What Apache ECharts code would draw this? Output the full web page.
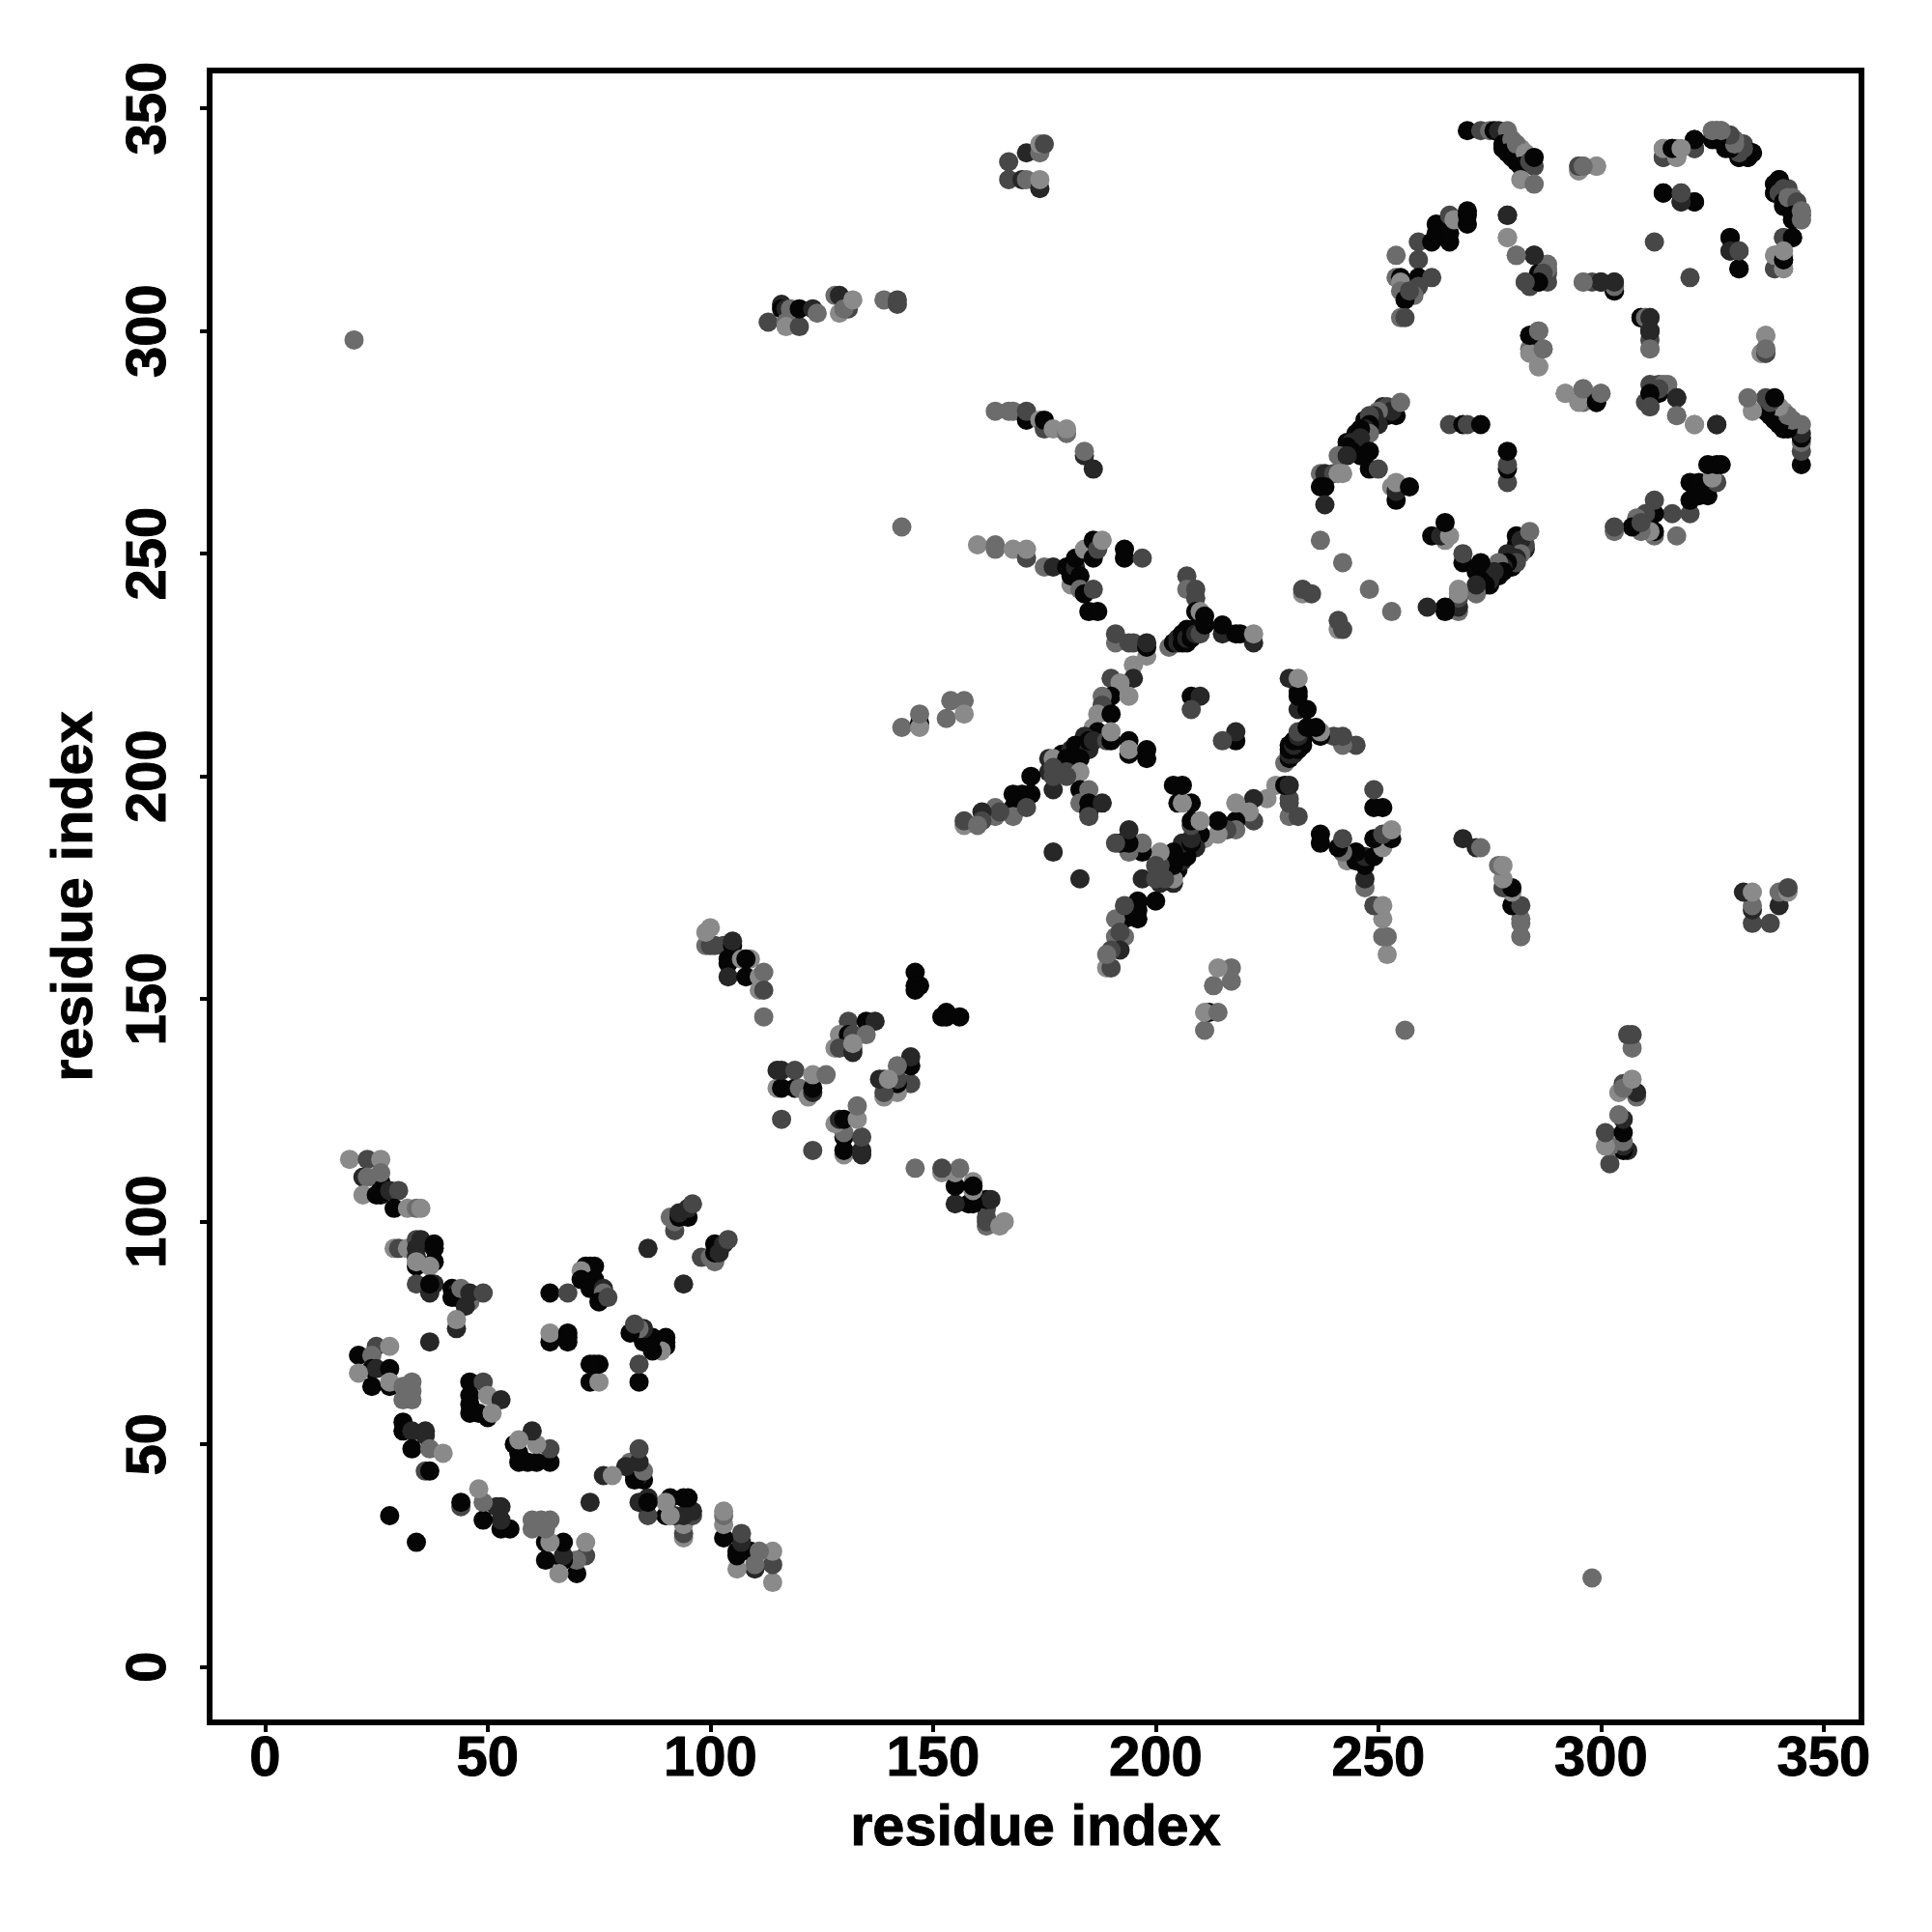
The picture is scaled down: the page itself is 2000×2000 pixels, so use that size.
<!DOCTYPE html>
<html><head><meta charset="utf-8"><style>html,body{margin:0;padding:0;background:#fff}#c{width:2000px;height:2000px}</style>
<script src="https://cdn.jsdelivr.net/npm/echarts@6/dist/echarts.min.js"></script></head>
<body><div id="c"></div>
<script>
// Each contact is [residue i, residue j, shade index]; a contact map shows every pair (i,j) and (j,i).
var tickLabels = [0, 50, 100, 150, 200, 250, 300, 350];
var axisTitle = 'residue index';
var shadePalette = ['#050505', '#272727', '#474747', '#6c6c6c', '#8a8a8a'];

var contactsA = [[19,114,4],[23,114,2],[26,114,4],[26,109,0],[22,110,1],[23,110,3],[26,111,3],[22,106,4],[25,106,0],[26,106,0],[28,107,1],[30,107,2],[29,103,0],[32,103,4],[34,103,3],[35,103,4]];
var contactsB = [[29,94,4],[30,94,2],[32,94,4],[34,96,2],[35,96,1],[34,94,1],[34,92,1],[38,95,0],[38,94,0],[34,90,0],[34,91,4],[38,91,0],[37,90,4],[34,86,2],[37,84,1],[38,86,1],[37,86,0]];
var contactsC = [[42,85,0],[43,84,1],[42,83,0],[43,83,0],[44,85,3],[46,82,3],[46,83,3],[45,81,1],[46,84,1],[49,84,2],[43,76,1],[43,78,4],[37,73,1]];
var contactsD = [[25,72,2],[28,72,4],[21,70,0],[24,70,3],[24,67,0],[25,67,1],[28,67,0],[21,66,4],[24,63,0],[28,63,0],[28,64,4],[31,63,3],[33,64,3],[33,62,3],[31,60,3],[33,60,3]];
var contactsE = [[31,55,0],[31,53,0],[33,53,1],[36,53,1],[36,52,1],[33,49,0],[37,49,3],[40,48,4],[36,44,2],[37,44,0],[28,34,0]];
var contactsF = [[46,64,0],[49,64,2],[46,61,0],[50,61,4],[53,60,1],[46,59,0],[46,57,0],[48,57,0],[50,56,0],[51,57,4]];
var contactsG = [[64,84,0],[68,84,2],[72,90,0],[73,90,0],[74,90,0],[71,89,4],[71,87,0],[74,87,0],[73,85,0],[76,85,1],[76,84,3],[75,82,0],[77,83,2],[64,73,0],[64,75,4],[68,75,0],[68,74,0],[68,73,0]];
var contactsH = [[86,94,1],[92,98,2],[92,100,3],[91,101,3],[93,101,0],[95,101,0],[93,102,1],[95,103,1],[96,104,2]];
var contactsI = [[99,162,3],[100,162,2],[101,162,2],[103,162,2],[99,165,4],[100,166,4],[105,162,0],[105,163,1],[104,158,0],[104,159,0],[107,159,4],[109,159,4],[108,159,0],[104,155,1],[108,155,0],[111,155,4],[112,156,3],[111,152,4],[112,152,2],[112,146,3],[146,156,0],[146,153,0],[147,153,0],[146,152,0]];
var contactsJ = [[115,130,4],[116,130,0],[119,130,0],[120,130,3],[122,128,4],[123,129,1],[123,130,0],[115,134,1],[116,134,1],[119,134,2],[123,133,4],[126,133,3],[116,123,2],[131,145,2],[135,145,0],[137,145,1],[129,142,4],[131,142,0],[132,142,2],[135,142,3],[128,139,4],[129,139,2],[132,139,2],[132,138,1],[132,140,4]];
var contactsL = [[160,252,4],[164,252,3],[164,251,3],[168,251,4],[171,249,2],[171,251,4],[175,247,3],[177,247,1],[180,247,0],[181,243,4],[181,245,0],[182,247,1],[182,249,0],[183,245,0],[184,251,4],[183,242,3],[184,241,0],[186,242,2],[186,249,0],[186,253,0],[187,251,2],[188,253,4],[185,237,0],[187,237,0],[193,249,0],[193,251,0],[197,249,2]];
var contactsM = [[164,282,3],[167,282,3],[168,282,3],[171,280,0],[171,282,2],[174,280,4],[175,278,2],[175,280,0],[177,278,4],[180,277,3],[180,278,4],[184,272,1],[184,273,3],[186,269,1]];
var contactsN = [[207,245,2],[207,242,3],[209,242,2],[209,240,2],[203,229,3],[204,230,0],[205,230,1],[205,231,1],[206,230,0],[206,232,0],[207,233,0],[207,230,0],[207,231,1],[208,231,0],[208,233,0],[209,232,1],[209,237,0],[210,232,2],[210,237,4],[211,234,0],[211,236,0],[215,232,1],[215,234,0],[218,232,0],[219,232,0],[222,230,1],[222,232,4]];
var contactsO = [[191,230,3],[191,232,2],[194,230,2],[195,230,2],[198,227,4],[198,229,0],[198,230,1],[195,225,4],[190,222,2],[195,222,1],[192,221,4],[190,218,0],[188,218,3],[194,218,4],[188,216,2],[187,214,4],[190,214,0],[186,211,4],[187,210,0],[184,209,1],[179,205,0],[181,206,1],[182,207,0],[182,205,0],[183,206,0],[184,207,0],[185,206,1],[185,208,0],[186,208,1],[189,208,2],[190,208,0],[190,210,4],[194,208,0],[194,205,0],[194,206,4],[198,206,0],[198,204,0]];
var contactsP = [[176,204,1],[177,204,4],[180,204,0],[183,204,0],[177,201,1],[176,201,1],[180,201,2],[183,201,4],[172,200,0],[172,196,0],[168,196,0],[170,196,0],[168,193,0],[168,192,0],[168,191,3],[171,193,2],[177,197,1],[164,193,3],[164,191,3],[165,192,2],[161,192,1],[161,190,2],[157,189,4],[157,190,2],[160,189,3]];
var contactsQ = [[183,197,0],[185,197,3],[183,194,3],[185,194,0],[185,192,0],[188,194,1],[185,191,2],[177,183,1],[180,200,2],[177,200,2],[177,202,2]];
var contactsR = [[208,218,0],[210,218,1],[208,215,2],[20,298,3],[143,256,3],[143,211,3],[147,212,0],[147,211,4],[147,214,3],[153,213,3],[154,217,3],[157,217,3],[157,214,4]];
var contactsT = [[254,281,0],[251,283,1],[252,283,2],[252,281,0],[253,282,1],[250,282,3],[255,284,3],[250,279,1],[249,280,1],[249,281,1],[247,280,0],[248,281,2],[248,279,0],[247,278,1],[248,277,3],[246,278,0],[245,277,0],[246,276,1],[243,275,0],[244,275,1],[245,275,1],[246,274,1],[243,274,0],[244,273,0],[242,272,1],[241,272,3],[246,272,0],[243,272,1],[248,273,0],[248,269,0],[250,269,2],[237,268,3],[238,268,1],[240,268,2],[241,268,4],[242,268,4],[237,265,0],[238,265,0],[238,261,1],[253,265,4],[254,262,0],[254,264,1],[254,266,4],[257,265,0],[237,253,3],[242,248,3],[233,241,4],[233,242,2],[235,241,2],[266,279,2],[269,279,0],[270,279,2],[273,279,0]];
var contactsU = [[270,345,0],[273,345,2],[275,345,3],[276,345,0],[277,345,1],[279,345,3],[278,342,0],[278,341,0],[280,343,3],[279,340,0],[280,339,0],[282,341,4],[281,338,0],[281,342,3],[283,340,4],[282,337,0],[284,338,2],[285,337,2],[285,339,0],[282,334,4],[285,333,3],[295,336,4],[295,337,3],[296,337,3],[299,337,4]];
var contactsV = [[314,339,2],[314,341,4],[316,341,0],[317,341,4],[317,339,4],[321,341,2],[321,343,0],[325,345,4],[326,345,1],[327,345,3],[325,343,0],[328,344,1],[329,343,3],[328,341,0],[332,342,2],[331,339,0],[333,339,0],[334,340,0],[314,331,0],[318,329,1],[318,331,2],[321,329,0]];
var contactsW = [[339,333,0],[339,331,0],[340,334,0],[340,331,2],[341,332,2],[341,329,0],[342,328,0],[342,330,3],[343,330,3],[344,327,1],[344,329,2],[343,326,0],[345,325,3],[345,327,3],[341,321,2],[343,321,0],[339,314,2],[339,317,4],[341,314,4],[341,316,0],[341,318,4],[329,321,0],[329,318,1],[331,314,0],[331,318,2],[312,320,2]];
var contactsX = [[259,320,2],[262,320,0],[263,322,0],[263,324,0],[266,320,0],[266,322,0],[266,326,2],[267,325,4],[270,324,0],[270,326,0],[270,327,0],[259,316,2],[254,317,3],[254,312,3],[255,312,0],[259,312,0],[262,312,2],[255,311,4],[259,310,2],[255,309,3],[258,308,3],[256,307,0],[257,309,2],[255,303,3],[256,303,2]];
var contactsY = [[279,326,1],[279,321,4],[281,317,3],[285,317,1],[283,311,2],[286,313,0],[286,311,0],[284,310,2],[288,313,2],[288,315,3],[296,311,4],[298,311,2],[300,311,0],[303,309,0],[303,310,2],[303,311,1],[309,303,0],[310,303,3],[311,303,1],[311,300,1],[311,296,3],[284,299,0],[286,300,3],[284,296,3],[285,296,0],[287,296,3],[286,292,4],[337,299,4],[336,295,4],[337,295,2],[337,296,3]];
var contactsZ = [[292,286,4],[296,285,0],[295,284,4],[296,287,3],[299,284,0],[300,286,3],[311,288,2],[314,288,3],[313,287,2],[311,286,0],[317,285,1],[311,283,2],[317,281,3],[321,279,4],[326,279,1]];
var contactsK = [[167,338,2],[171,340,1],[174,340,3],[174,342,4],[175,342,2],[167,334,2],[170,334,1],[171,334,3],[174,332,1],[174,334,4]];
var contactsS = [[113,302,2],[116,306,1],[116,305,0],[117,305,1],[118,305,3],[117,302,3],[117,301,4],[120,301,2],[120,305,0],[123,305,1],[124,304,3],[128,308,3],[129,308,1],[129,304,4],[131,305,2],[130,305,3],[132,307,4],[139,307,3],[142,306,2],[142,307,2]];

var allContacts = [].concat(contactsA, contactsB, contactsC, contactsD, contactsE, contactsF, contactsG, contactsH, contactsI, contactsJ, contactsL, contactsM, contactsN, contactsO, contactsP, contactsQ, contactsR, contactsT, contactsU, contactsV, contactsW, contactsX, contactsY, contactsZ, contactsK, contactsS);
var points = [];
allContacts.forEach(function (c) { points.push([c[0], c[1], c[2]]); points.push([c[1], c[0], c[2]]); });

var font = '"Liberation Sans", Arial, sans-serif';
var heavy = { color: '#000', fontFamily: font, fontWeight: 'bold', fontSize: 58, textBorderColor: '#000', textBorderWidth: 1 };
function axis(extra) {
  return Object.assign({
    type: 'value', name: axisTitle, nameLocation: 'middle', nameMoveOverlap: false,
    nameTextStyle: Object.assign({}, heavy, { fontSize: 59.5 }),
    axisLine: { show: false, onZero: false },
    splitLine: { show: false },
    axisTick: { show: true, inside: false, length: 10, lineStyle: { color: '#000', width: 4 }, customValues: tickLabels }
  }, extra);
}
var chart = echarts.init(document.getElementById('c'), null, { renderer: 'canvas' });
chart.setOption({
  animation: false,
  backgroundColor: '#fff',
  grid: { left: 217, right: 73, top: 73, bottom: 217, show: true, borderColor: '#000', borderWidth: 6, backgroundColor: 'transparent' },
  xAxis: axis({ min: -12.43, max: 358.5, nameGap: 81,
    axisLabel: Object.assign({ show: true, customValues: tickLabels, margin: 10 }, heavy) }),
  yAxis: axis({ min: -12.43, max: 358.5, nameGap: 108,
    axisLabel: Object.assign({ show: true, customValues: tickLabels, rotate: 90, margin: 33, align: 'center', verticalAlign: 'bottom' }, heavy) }),
  series: [{
    type: 'scatter', data: points, symbol: 'circle', symbolSize: 20, silent: true,
    encode: { x: 0, y: 1 },
    itemStyle: { opacity: 1, color: function (p) { return shadePalette[p.value[2]]; } }
  }]
});
</script></body></html>
